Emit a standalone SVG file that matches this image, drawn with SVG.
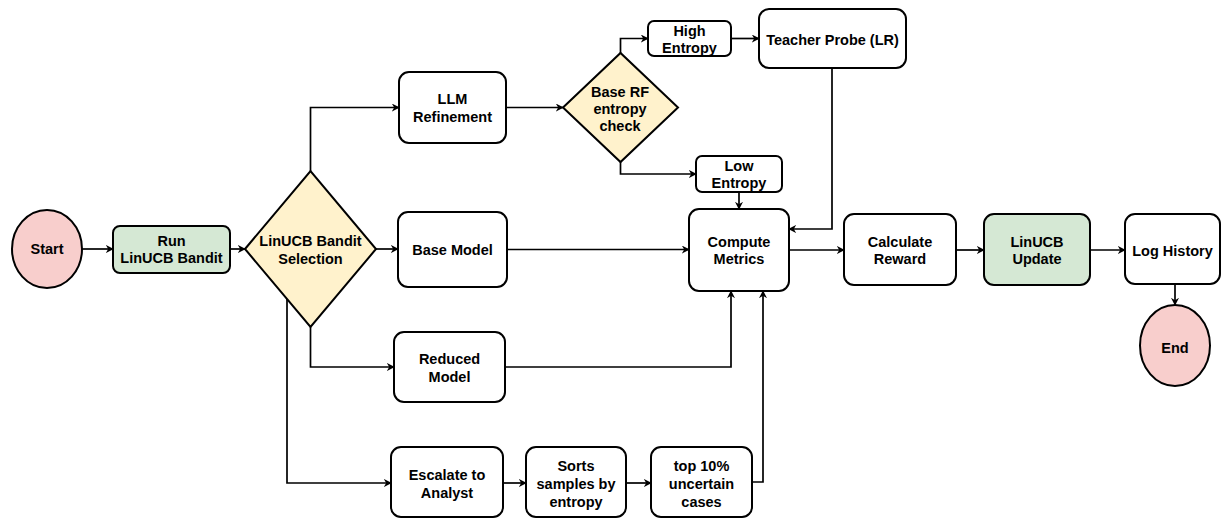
<svg xmlns="http://www.w3.org/2000/svg" width="1221" height="518" viewBox="0 0 1221 518">
<defs>
<marker id="arr" viewBox="0 0 10 10" refX="9" refY="5" markerWidth="8" markerHeight="8" markerUnits="userSpaceOnUse" orient="auto">
<path d="M0,0 L10,5 L0,10 L3,5 z" fill="#000"/>
</marker>
<style>
.n{fill:#fff;stroke:#000;stroke-width:2}
.g{fill:#d5e8d4;stroke:#000;stroke-width:2}
.p{fill:#f8cecc;stroke:#000;stroke-width:2}
.y{fill:#fff2cc;stroke:#000;stroke-width:2}
.t{font-family:"Liberation Sans",Arial,sans-serif;font-weight:bold;font-size:14.5px;fill:#000;text-anchor:middle;dominant-baseline:central}
.c{fill:none;stroke:#000;stroke-width:1.7;marker-end:url(#arr)}
</style>
</defs>
<rect width="1221" height="518" fill="#fff"/>
<g id="connectors">
<path class="c" d="M82,249 L113,249"/>
<path class="c" d="M230,249 L245,249"/>
<path class="c" d="M376,249 L398,249"/>
<path class="c" d="M310.5,171 L310.5,107.5 L399,107.5"/>
<path class="c" d="M310.5,327 L310.5,367 L394,367"/>
<path class="c" d="M287,299 L287,483 L391,483"/>
<path class="c" d="M506,107.5 L563,107.5"/>
<path class="c" d="M620.5,53 L620.5,38.5 L648,38.5"/>
<path class="c" d="M731,38.5 L759,38.5"/>
<path class="c" d="M620.5,162 L620.5,174 L696,174"/>
<path class="c" d="M739,192 L739,209"/>
<path class="c" d="M832,68 L832,229 L789,229"/>
<path class="c" d="M507,249.5 L689,249.5"/>
<path class="c" d="M505,367 L731,367 L731,291"/>
<path class="c" d="M752,482 L763,482 L763,291"/>
<path class="c" d="M789,250 L844,250"/>
<path class="c" d="M956,250 L984,250"/>
<path class="c" d="M1090,250 L1125,250"/>
<path class="c" d="M1175,284 L1175,305"/>
<path class="c" d="M503,483 L526,483"/>
<path class="c" d="M626,483 L651,483"/>
</g>
<g id="start"><ellipse class="p" cx="47" cy="249" rx="35" ry="39"/><text class="t" x="47" y="249">Start</text></g>
<g id="run"><rect class="g" x="113" y="226" width="117" height="47" rx="7"/><text class="t" x="171.5" y="241">Run</text><text class="t" x="171.5" y="258">LinUCB Bandit</text></g>
<g id="bandit"><polygon class="y" points="245,249 310.5,171 376,249 310.5,327"/><text class="t" x="310.5" y="241">LinUCB Bandit</text><text class="t" x="310.5" y="259">Selection</text></g>
<g id="llm"><rect class="n" x="399" y="72" width="107" height="71" rx="10"/><text class="t" x="452.5" y="99">LLM</text><text class="t" x="452.5" y="117">Refinement</text></g>
<g id="baserf"><polygon class="y" points="563,107.5 620.5,53 678,107.5 620.5,162"/><text class="t" x="620" y="92">Base RF</text><text class="t" x="620" y="109">entropy</text><text class="t" x="620" y="126">check</text></g>
<g id="high"><rect class="n" x="648" y="21" width="83" height="35" rx="6"/><text class="t" x="689.5" y="31">High</text><text class="t" x="689.5" y="48">Entropy</text></g>
<g id="teacher"><rect class="n" x="759" y="9" width="147" height="59" rx="10"/><text class="t" x="832.5" y="39.5">Teacher Probe (LR)</text></g>
<g id="low"><rect class="n" x="696" y="156" width="86" height="36" rx="6"/><text class="t" x="739" y="166">Low</text><text class="t" x="739" y="183">Entropy</text></g>
<g id="base"><rect class="n" x="398" y="212" width="109" height="75" rx="10"/><text class="t" x="452.5" y="250">Base Model</text></g>
<g id="compute"><rect class="n" x="689" y="209" width="100" height="82" rx="10"/><text class="t" x="739" y="242">Compute</text><text class="t" x="739" y="259">Metrics</text></g>
<g id="calc"><rect class="n" x="844" y="214" width="112" height="71" rx="10"/><text class="t" x="900" y="242">Calculate</text><text class="t" x="900" y="259">Reward</text></g>
<g id="update"><rect class="g" x="984" y="214" width="106" height="71" rx="10"/><text class="t" x="1037" y="242">LinUCB</text><text class="t" x="1037" y="259">Update</text></g>
<g id="log"><rect class="n" x="1125" y="214" width="95" height="70" rx="10"/><text class="t" x="1172.5" y="251">Log History</text></g>
<g id="end"><ellipse class="p" cx="1175" cy="345.5" rx="35" ry="40.5"/><text class="t" x="1175" y="348">End</text></g>
<g id="reduced"><rect class="n" x="394" y="332" width="111" height="70" rx="10"/><text class="t" x="449.5" y="359">Reduced</text><text class="t" x="449.5" y="377">Model</text></g>
<g id="escalate"><rect class="n" x="391" y="447" width="112" height="70" rx="10"/><text class="t" x="447" y="475">Escalate to</text><text class="t" x="447" y="493">Analyst</text></g>
<g id="sorts"><rect class="n" x="526" y="447" width="100" height="70" rx="10"/><text class="t" x="576" y="466">Sorts</text><text class="t" x="576" y="484">samples by</text><text class="t" x="576" y="502">entropy</text></g>
<g id="top10"><rect class="n" x="651" y="447" width="101" height="70" rx="10"/><text class="t" x="701.5" y="466">top 10%</text><text class="t" x="701.5" y="484">uncertain</text><text class="t" x="701.5" y="502">cases</text></g>
</svg>
